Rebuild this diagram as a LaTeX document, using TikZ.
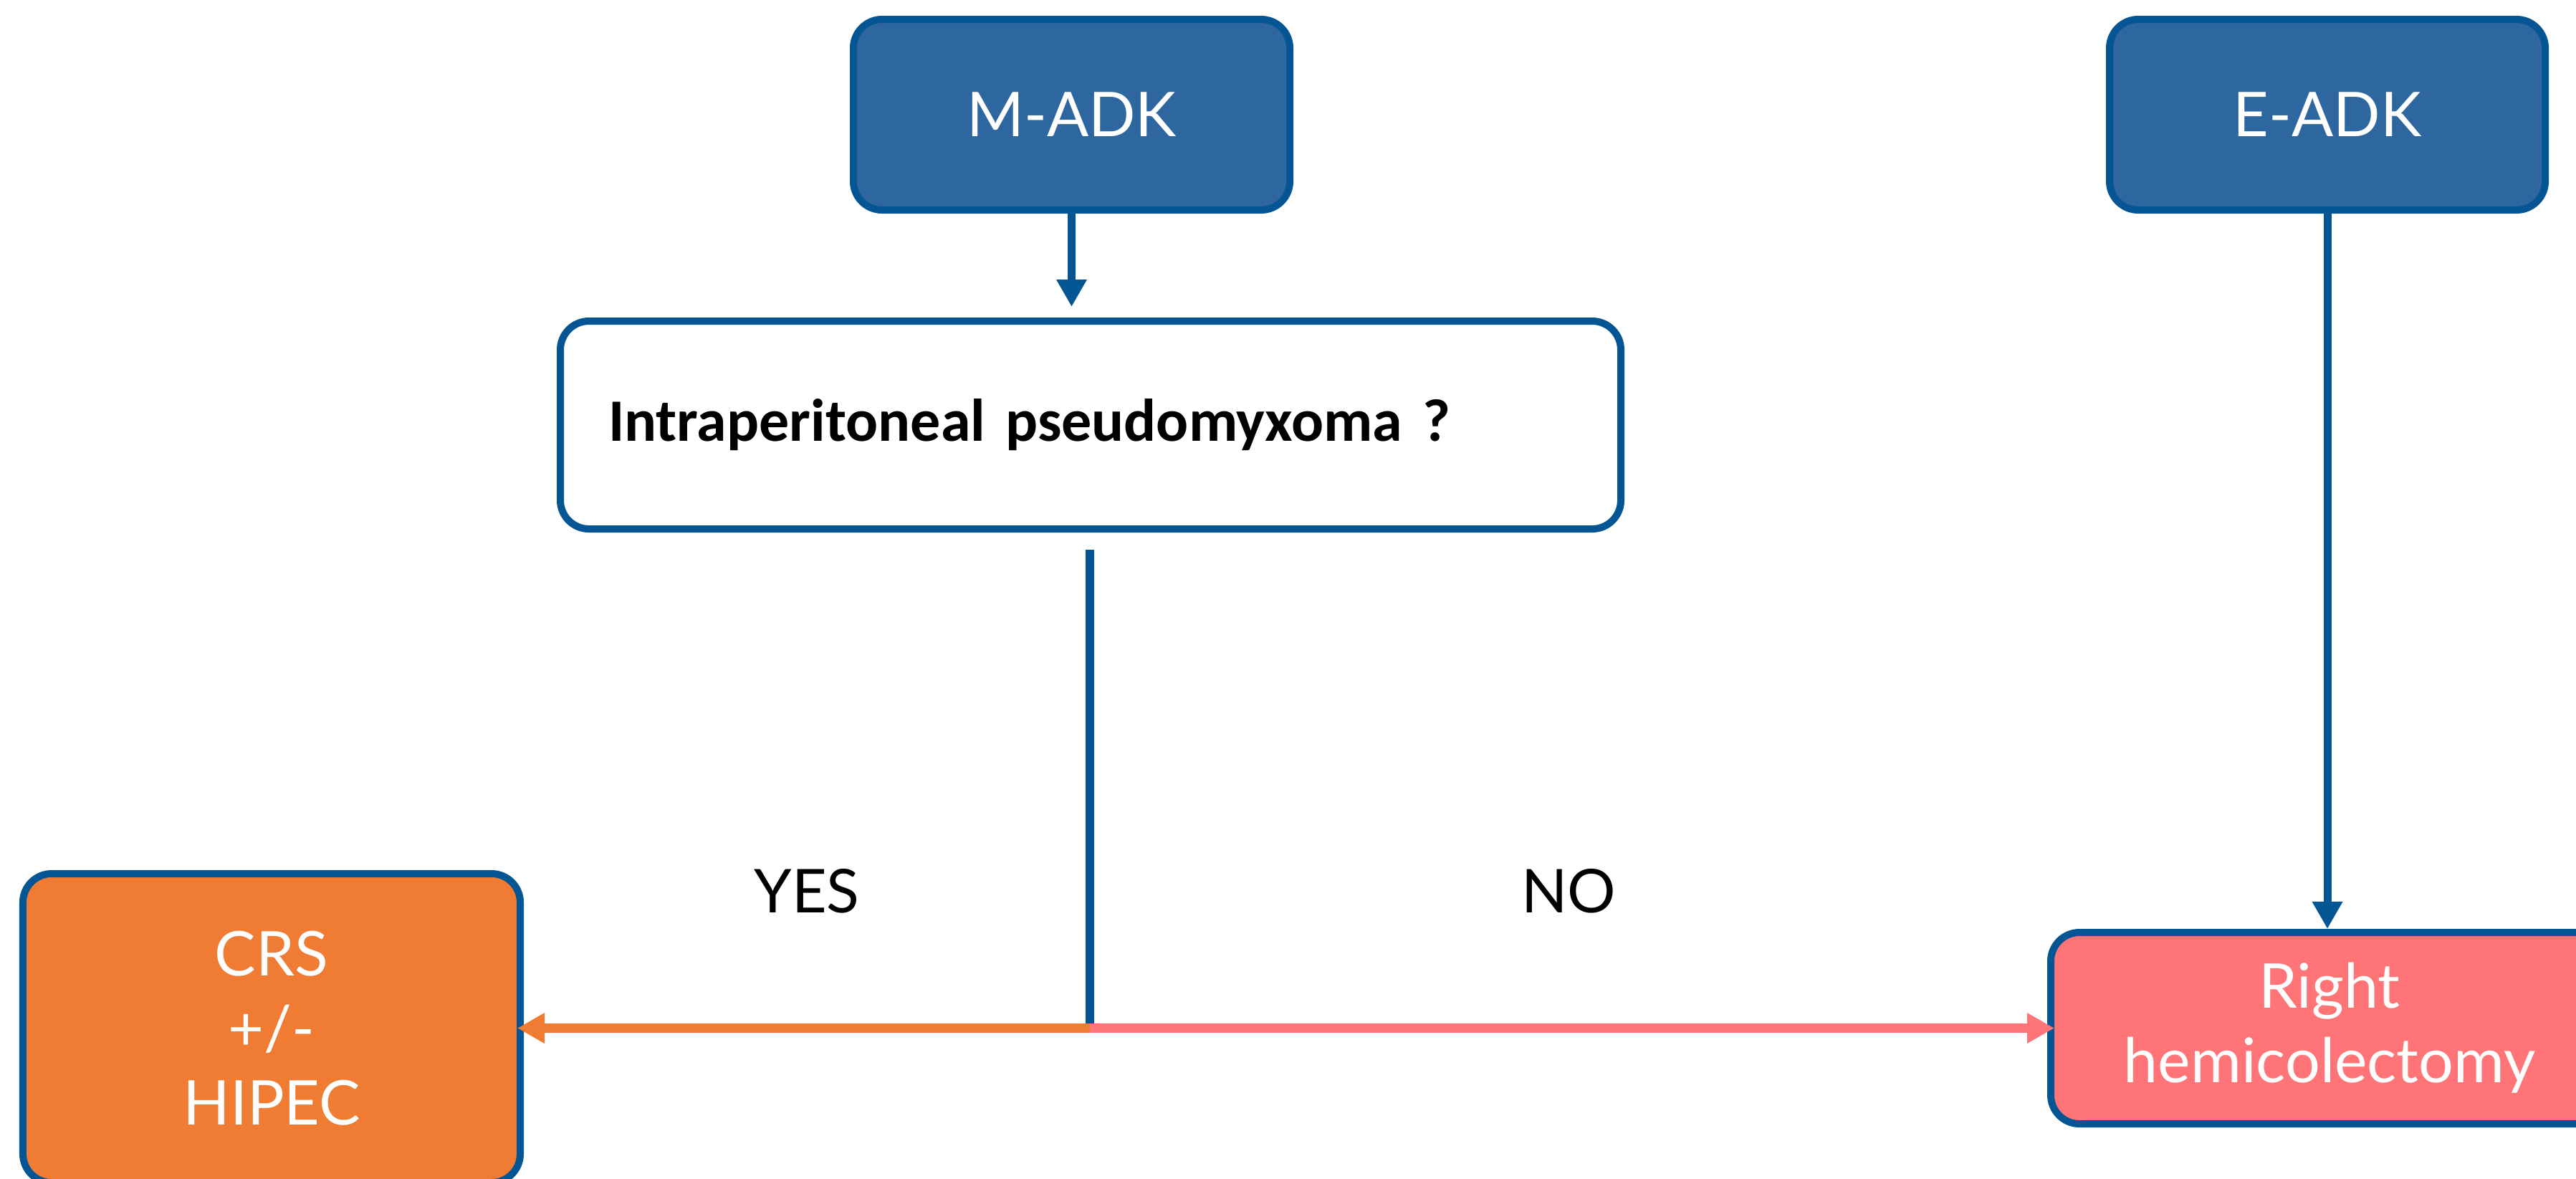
\documentclass[tikz,border=0pt]{standalone}
\usepackage{fontspec}
\setmainfont{Lato}
\newfontfamily\qfont{Carlito}
\usetikzlibrary{arrows.meta}
\definecolor{edgeblue}{RGB}{3,85,148}
\definecolor{adkblue}{RGB}{46,103,160}
\definecolor{crsorange}{RGB}{240,123,50}
\definecolor{hemipink}{RGB}{255,117,119}

\begin{document}
\begin{tikzpicture}[
  box/.style={draw=edgeblue, line width=1mm, rounded corners=4mm, align=center,
              text=white, font=\fontsize{24.5}{29.6}\selectfont, inner sep=0pt},
  adk/.style={box, fill=adkblue, minimum height=26.6mm},
  arr/.style={-{Triangle[length=3.8mm, width=4mm]}, line width=1.1mm},
  lbl/.style={font=\fontsize{24}{29.6}\selectfont, text=black}
]
\useasboundingbox (0,0) rectangle (35.95,-16.44);
\clip (0,0) rectangle (35.95,-16.44);

\node[adk, minimum width=60.9mm] (madk) at (14.955,-1.60) {M-ADK};
\node[adk, minimum width=60.8mm] (eadk) at (32.48,-1.60) {E-ADK};
\node[box, fill=white, text=black, minimum height=29mm, inner xsep=6.7mm,
      text width=134.6mm, align=left, font=\qfont\bfseries\fontsize{23.9}{28}\selectfont]
  (q) at (15.22,-5.93) {Intraperitoneal pseudomyxoma ?};
\node[box, fill=crsorange, minimum width=69.4mm, minimum height=43.1mm]
  (crs) at (3.79,-14.345) {CRS\\+/-\\HIPEC};
\node[box, fill=hemipink, minimum width=77.8mm, minimum height=26.7mm]
  (hemi) at (32.51,-14.345) {Right\\hemicolectomy};
\coordinate (split) at (15.21,-14.345);

\draw[arr, edgeblue] (madk.south) -- ([yshift=1.5mm]madk.south |- q.north);
\draw[arr, edgeblue] (eadk.south) -- (eadk.south |- hemi.north);
\draw[edgeblue, line width=1.2mm] ([yshift=-2.4mm]q.south -| split) -- (split);
\draw[arr, crsorange, line width=1.25mm, shorten >=-0.9mm] (split) -- (crs.east)
  node[lbl, midway, yshift=19.1mm] (yes) {YES};
\draw[arr, hemipink, line width=1.25mm, shorten >=-1mm] (split) -- (hemi.west)
  node[lbl, midway, yshift=19.1mm] (no) {NO};
\end{tikzpicture}
\end{document}
